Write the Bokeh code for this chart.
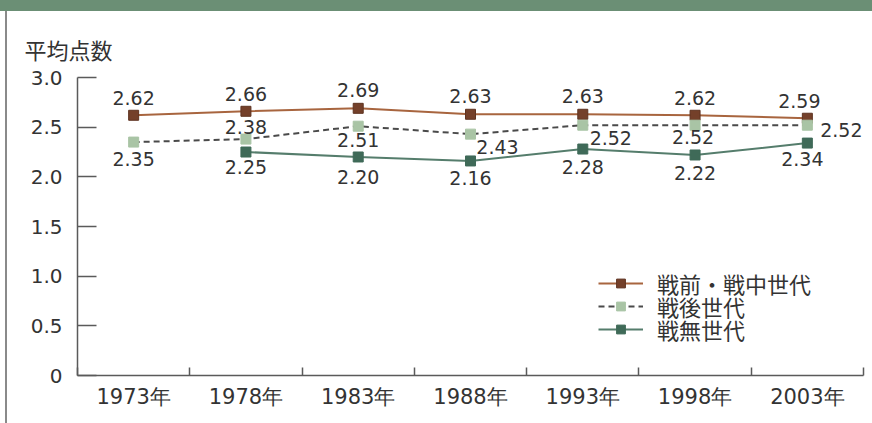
from bokeh.plotting import figure
from bokeh.models import (Range1d, FixedTicker, ColumnDataSource, LabelSet, Legend,
                          LegendItem, Title, NumeralTickFormatter, Div)
from bokeh.layouts import column, row
from bokeh.core.properties import value
from bokeh.embed import file_html
from bokeh.resources import INLINE

# ---- data ----
years = [1973, 1978, 1983, 1988, 1993, 1998, 2003]
year_labels = ["1973年", "1978年", "1983年", "1988年", "1993年", "1998年", "2003年"]
series_names = ["戦前・戦中世代", "戦後世代", "戦無世代"]
prewar = [2.62, 2.66, 2.69, 2.63, 2.63, 2.62, 2.59]
postwar = [2.35, 2.38, 2.51, 2.43, 2.52, 2.52, 2.52]
nowar = [float("nan"), 2.25, 2.20, 2.16, 2.28, 2.22, 2.34]
y_ticks = [0, 0.5, 1.0, 1.5, 2.0, 2.5, 3.0]
y_tick_labels = ["0", "0.5", "1.0", "1.5", "2.0", "2.5", "3.0"]
y_title = "平均点数"

# ---- label offsets (style, screen px; y positive = up) ----
prewar_dx = [0, 0, 0, 0, 0, 0, -8]
prewar_dy = [17, 17, 18, 18, 18, 17, 17]
postwar_dx = [0, 0, 0, 27, 28, -2, 34]
postwar_dy = [-17, 12, -14, -13, -13, -12, -5]
nowar_dx = [0, 0, 0, 0, 0, 0, -5]
nowar_dy = [0, -15, -20, -17, -18, -18, -16]
legend_row_px = [284, 307, 330]   # screen rows of legend entries (style)

NUM_FONT = "DejaVu Sans"
JP_FONT = "Noto Sans CJK JP"
LEG_FONT = "Liberation Sans, Noto Sans CJK JP"
TXT = "#333333"
AX = "#5a5a5a"

half = (years[1] - years[0]) / 2
x_lo, x_hi = years[0] - half, years[-1] + half
boundaries = [y - half for y in years] + [x_hi]

p = figure(width=865, height=412, output_backend="svg", toolbar_location=None,
           x_range=Range1d(x_lo, x_hi), y_range=Range1d(0, 3.111),
           min_border_left=70, min_border_right=9, min_border_top=55,
           min_border_bottom=48)
p.title = Title(text=y_title, align="left", offset=-53, vertical_align="bottom",
                standoff=4, text_font=JP_FONT, text_font_size="22px",
                text_font_style="normal", text_color=TXT)
p.outline_line_color = None
p.xgrid.grid_line_color = None
p.ygrid.grid_line_color = None
p.background_fill_color = "white"
p.border_fill_color = "white"
p.margin = 0

def norm(k):
    return int(k) if float(k).is_integer() else k

# y axis
ya = p.yaxis[0]
ya.ticker = FixedTicker(ticks=y_ticks)
ya.formatter = NumeralTickFormatter(format="0.0")
ya.major_label_overrides = {norm(t): l for t, l in zip(y_ticks, y_tick_labels)}
ya.bounds = (y_ticks[0], y_ticks[-1])
ya.major_tick_in = 19
ya.major_tick_out = 0
ya.minor_tick_line_color = None
ya.axis_line_color = AX
ya.axis_line_width = 1.5
ya.major_tick_line_color = AX
ya.major_tick_line_width = 1.5
ya.major_label_standoff = 15
ya.major_label_text_font = NUM_FONT
ya.major_label_text_font_size = "20px"
ya.major_label_text_color = TXT

# x axis
xa = p.xaxis[0]
xa.ticker = FixedTicker(ticks=years, minor_ticks=boundaries)
xa.major_label_overrides = {norm(t): l for t, l in zip(years, year_labels)}
xa.major_tick_line_color = None
xa.minor_tick_in = 8
xa.minor_tick_out = 0
xa.minor_tick_line_color = AX
xa.minor_tick_line_width = 1.5
xa.axis_line_color = AX
xa.axis_line_width = 1.5
xa.major_label_standoff = 3
xa.major_label_text_font = NUM_FONT
xa.major_label_text_font_size = "21px"
xa.major_label_text_color = TXT

# series
src1 = ColumnDataSource(dict(x=years, y=prewar, t=[f"{v:.2f}" for v in prewar], dx=prewar_dx, dy=prewar_dy))
src2 = ColumnDataSource(dict(x=years, y=postwar, t=[f"{v:.2f}" for v in postwar], dx=postwar_dx, dy=postwar_dy))
src3 = ColumnDataSource(dict(x=years, y=nowar, t=[("" if v != v else f"{v:.2f}") for v in nowar], dx=nowar_dx, dy=nowar_dy))

l1 = p.line("x", "y", source=src1, line_color="#a8653f", line_width=2)
s1 = p.scatter("x", "y", source=src1, marker="square", size=10, fill_color="#74402a", line_color="#5e3321")
l2 = p.line("x", "y", source=src2, line_color="#4a4a4a", line_width=2, line_dash="6 4")
s2 = p.scatter("x", "y", source=src2, marker="square", size=10, fill_color="#a9c4a5", line_color="#a9c4a5")
l3 = p.line("x", "y", source=src3, line_color="#557d6c", line_width=2)
s3 = p.scatter("x", "y", source=src3, marker="square", size=10, fill_color="#3f6a58", line_color="#3f6a58")

for src in (src1, src2, src3):
    p.add_layout(LabelSet(x="x", y="y", text="t", source=src, x_offset="dx", y_offset="dy",
                          text_align="center", text_baseline="middle",
                          text_font=value(NUM_FONT), text_font_size="19px", text_color=TXT))

ROW_H = 22
for name, rends, ry in zip(series_names, [[l1, s1], [l2, s2], [l3, s3]], legend_row_px):
    lg = Legend(items=[LegendItem(label=name, renderers=rends)],
                location=(521, 375 - ry - ROW_H // 2 - 4), orientation="vertical",
                border_line_color=None, background_fill_alpha=0,
                padding=0, margin=0, spacing=0,
                glyph_width=45, glyph_height=ROW_H, label_height=ROW_H,
                label_standoff=14, label_text_font=LEG_FONT,
                label_text_font_size="22px", label_text_color=TXT)
    p.add_layout(lg)

header = Div(text="", width=872, height=11, margin=0,
             styles={"background-color": "#6b8f75"})
gap = Div(text="", width=5, height=412, margin=0)
border = Div(text="", width=2, height=412, margin=0,
             styles={"background-color": "#8a8a8a"})
layout = column(header, row(gap, border, p, spacing=0), spacing=0)

open("out.html", "w").write(file_html(layout, INLINE))
